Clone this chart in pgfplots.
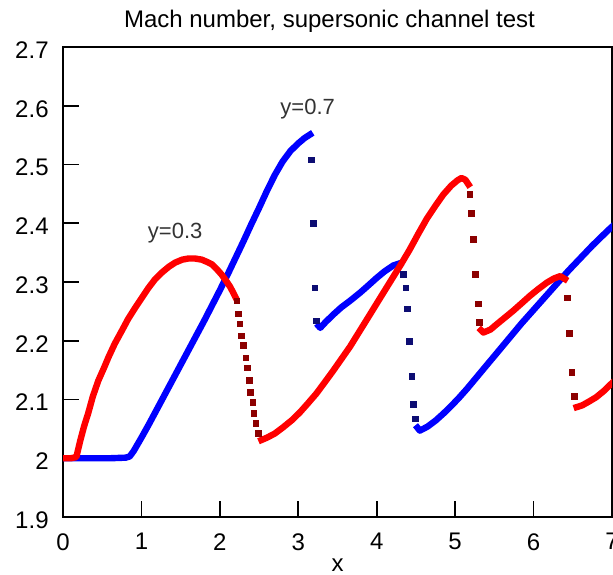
\documentclass[border=0pt]{standalone}
\usepackage{pgfplots}
\pgfplotsset{compat=1.18}
\usepackage{fontspec}
\setmainfont{Liberation Sans}
\definecolor{cred}{rgb}{1,0,0}
\definecolor{cblue}{rgb}{0,0,1}
\definecolor{sred}{rgb}{0.55,0,0}
\definecolor{sblue}{rgb}{0.05,0.05,0.45}
\begin{document}
\begin{tikzpicture}
\begin{axis}[
  scale only axis,
  width=274.5pt, height=235pt,
  xmin=0, xmax=7, ymin=1.9, ymax=2.7,
  xtick={0,1,...,7},
  ytick={1.9,2.0,2.1,2.2,2.3,2.4,2.5,2.6,2.7},
  yticklabels={1.9,2,2.1,2.2,2.3,2.4,2.5,2.6,2.7},
  tick pos=left,
  tick align=inside,
  major tick length=8pt,
  tick style={black, line width=0.8pt},
  axis line style={black, line width=1pt},
  font=\fontsize{12}{14}\selectfont,
  /pgf/number format/assume math mode=true,
  ticklabel style={font=\fontsize{12}{14}\selectfont},
  yticklabel style={inner sep=0pt, xshift=-7pt, yshift=-1.5pt},
  xticklabel style={inner sep=0pt, yshift=-8pt},
  xlabel={x},
  xlabel style={at={(axis description cs:0.5,0)}, anchor=center, inner sep=0pt, yshift=-24pt},
  unbounded coords=jump,
  clip=true,
]
% ---- y = 0.7 (blue): continuous parts
\addplot[cblue, line width=3.2pt, line join=round, line cap=rect] coordinates {
(0.00,2.000) (0.20,2.000) (0.40,2.000) (0.60,2.000) (0.80,2.001) (0.85,2.003) (0.90,2.012)
(1.00,2.035) (1.10,2.059) (1.20,2.084) (1.30,2.109) (1.40,2.134) (1.50,2.159) (1.60,2.184)
(1.70,2.209) (1.80,2.234) (1.90,2.260) (2.00,2.286) (2.10,2.313) (2.20,2.341) (2.30,2.369)
(2.40,2.398) (2.50,2.426) (2.60,2.455) (2.70,2.482) (2.80,2.505) (2.90,2.523) (3.00,2.536)
(3.08,2.545) (3.15,2.551)
(3.20,nan)
(3.26,2.225) (3.28,2.222) (3.35,2.232) (3.45,2.245) (3.55,2.257) (3.66,2.268) (3.79,2.282)
(3.90,2.295) (4.00,2.307) (4.10,2.318) (4.21,2.328) (4.30,2.332)
(4.40,nan)
(4.52,2.052) (4.55,2.047) (4.65,2.054) (4.75,2.064) (4.85,2.076) (4.95,2.089) (5.05,2.103)
(5.15,2.118) (5.25,2.134) (5.35,2.150) (5.45,2.166) (5.55,2.182) (5.65,2.198) (5.75,2.214)
(5.85,2.230) (5.95,2.245) (6.05,2.260) (6.15,2.275) (6.25,2.290) (6.35,2.305) (6.45,2.320)
(6.55,2.334) (6.65,2.348) (6.75,2.362) (6.85,2.375) (6.95,2.388) (7.00,2.394)
};
% ---- y = 0.7 (blue): shock points
\addplot[only marks, sblue, mark=square*, mark size=1.4pt] coordinates {
(3.17,2.508) (3.19,2.400) (3.21,2.290) (3.23,2.234)
(4.34,2.313) (4.37,2.290) (4.39,2.254) (4.42,2.199) (4.45,2.139) (4.47,2.092) (4.49,2.067)
};
% ---- y = 0.3 (red): continuous parts
\addplot[cred, line width=3.2pt, line join=round, line cap=rect] coordinates {
(0.00,2.000) (0.10,2.000) (0.17,2.002) (0.22,2.030) (0.27,2.055) (0.32,2.076) (0.38,2.105)
(0.45,2.132) (0.52,2.153) (0.58,2.172) (0.66,2.195) (0.75,2.217) (0.83,2.237) (0.92,2.256)
(1.00,2.272) (1.09,2.290) (1.17,2.304) (1.26,2.316) (1.35,2.326) (1.43,2.333) (1.52,2.338)
(1.60,2.340) (1.68,2.340) (1.77,2.338) (1.84,2.334) (1.90,2.330) (1.96,2.322) (2.02,2.313)
(2.08,2.302) (2.13,2.292) (2.17,2.282) (2.20,2.274)
(2.30,nan)
(2.53,2.031) (2.60,2.035) (2.70,2.042) (2.81,2.053) (2.92,2.065) (3.02,2.078) (3.12,2.093)
(3.23,2.110) (3.33,2.128) (3.44,2.148) (3.55,2.169) (3.66,2.190) (3.79,2.218) (3.92,2.246)
(4.04,2.272) (4.17,2.300) (4.30,2.328) (4.42,2.355) (4.53,2.382) (4.64,2.408) (4.75,2.430)
(4.85,2.449) (4.95,2.464) (5.03,2.473) (5.08,2.477) (5.13,2.474) (5.17,2.466)
(5.25,nan)
(5.33,2.218) (5.36,2.214) (5.45,2.219) (5.53,2.228) (5.64,2.240) (5.74,2.251) (5.85,2.264)
(5.95,2.276) (6.06,2.288) (6.17,2.299) (6.26,2.306) (6.34,2.310) (6.40,2.305)
(6.48,nan)
(6.55,2.087) (6.62,2.090) (6.70,2.096) (6.80,2.104) (6.90,2.115) (7.00,2.128)
};
% ---- y = 0.3 (red): shock points
\addplot[only marks, sred, mark=square*, mark size=1.4pt] coordinates {
(2.215,2.268) (2.235,2.246) (2.257,2.229) (2.278,2.208) (2.299,2.192) (2.333,2.171)
(2.350,2.154) (2.375,2.132) (2.393,2.112) (2.419,2.095) (2.435,2.076) (2.461,2.059) (2.490,2.042)
(5.19,2.449) (5.21,2.417) (5.23,2.372) (5.26,2.313) (5.30,2.263) (5.31,2.231)
(6.43,2.273) (6.46,2.212) (6.49,2.146) (6.52,2.105)
};
\node[font=\fontsize{11}{13}\selectfont, text=black!80] at (axis cs:1.43,2.383) {y=0.3};
\node[font=\fontsize{11}{13}\selectfont, text=black!80] at (axis cs:3.12,2.595) {y=0.7};
\end{axis}
\node[anchor=base, inner sep=0pt, font=\fontsize{12}{14}\selectfont, xshift=-4pt, yshift=9.5pt] at (current axis.north) {Mach number, supersonic channel test};
\pgfresetboundingbox
\path ([xshift=-31.5pt, yshift=-29pt]current axis.south west) rectangle ([xshift=0.5pt, yshift=23.5pt]current axis.north east);
\end{tikzpicture}
\end{document}
